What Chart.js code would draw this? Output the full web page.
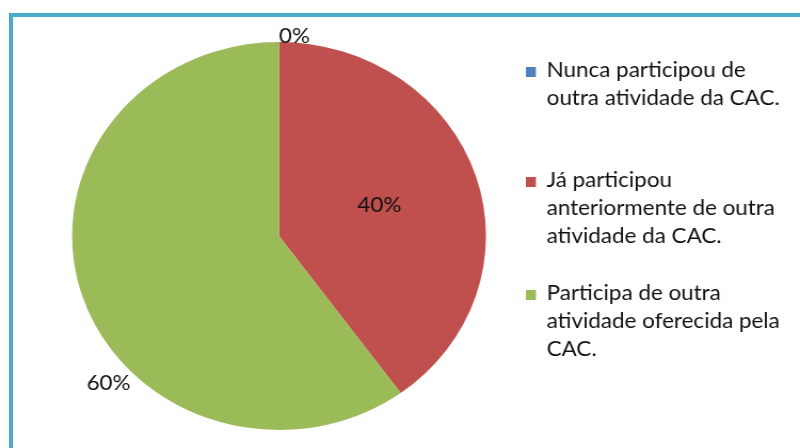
<!DOCTYPE html>
<html>
<head>
<meta charset="utf-8">
<script src="https://cdn.jsdelivr.net/npm/chart.js@4/dist/chart.umd.min.js"></script>
<style>
  body { margin: 0; width: 800px; height: 448px; overflow: hidden; position: relative; background: #fff; }
  #frame { position: absolute; left: 9px; top: 13px; width: 1000px; height: 1000px; border: 4px solid #4BACC6; box-sizing: border-box; }
  #wrap { position: absolute; left: 0; top: 0; width: 750px; height: 448px; transform: scaleX(1.0667); transform-origin: 0 0; }
</style>
</head>
<body>
<div id="frame"></div>
<div id="wrap"><canvas id="pieChart" width="750" height="448"></canvas></div>
<script>
// categories (multi-line legend text) and values
const categories = [
    ['Nunca participou de', 'outra atividade da CAC.'],
    ['Já participou', 'anteriormente de outra', 'atividade da CAC.'],
    ['Participa de outra', 'atividade oferecida pela', 'CAC.']
];
const shares = [0, 40, 60];
const sliceColors = ['#4F81BD', '#C0504D', '#9BBB59'];

// where each % label sits: fraction along the arc, multiple of the radius
const labelSpots = [
    { frac: 0, r: 1.03, align: 'left' },
    { frac: 0.5, r: 0.51, align: 'center' },
    { frac: 0.386, r: 1.12, align: 'center' }
];

const pctLabels = {
    id: 'pctLabels',
    afterDatasetsDraw(chart) {
        const ctx = chart.ctx;
        const arcs = chart.getDatasetMeta(0).data;
        ctx.save();
        ctx.font = '21px Lato';
        ctx.fillStyle = '#111';
        ctx.textBaseline = 'middle';
        arcs.forEach((arc, i) => {
            const p = arc.getProps(['x', 'y', 'startAngle', 'endAngle', 'outerRadius'], true);
            const spot = labelSpots[i];
            const a = p.startAngle + spot.frac * (p.endAngle - p.startAngle);
            const r = p.outerRadius * spot.r;
            ctx.textAlign = spot.align;
            ctx.fillText(shares[i] + '%', p.x + Math.cos(a) * r, p.y + Math.sin(a) * r);
        });
        ctx.restore();
    }
};

// legend on the right, drawn by hand so it can wrap like the original
const sideLegend = {
    id: 'sideLegend',
    afterDraw(chart) {
        const ctx = chart.ctx;
        const left = chart.chartArea.right + 37.4;
        const lineH = 28;
        const firstBaselines = [77, 187, 300];
        ctx.save();
        ctx.font = '21px Lato';
        ctx.textBaseline = 'alphabetic';
        ctx.textAlign = 'left';
        chart.data.labels.forEach((lines, i) => {
            const y0 = firstBaselines[i];
            ctx.fillStyle = sliceColors[i];
            ctx.fillRect(left, y0 - 10, 9.4, 10);
            ctx.fillStyle = '#111';
            lines.forEach((t, j) => ctx.fillText(t, left + 19.5, y0 + j * lineH));
        });
        ctx.restore();
    }
};

const ctx = document.getElementById('pieChart').getContext('2d');
const pieChart = new Chart(ctx, {
    type: 'pie',
    data: {
        labels: categories,
        datasets: [{
            data: shares,
            backgroundColor: sliceColors,
            borderWidth: 0
        }]
    },
    options: {
        responsive: false,
        animation: false,
        layout: {
            padding: { top: 42, bottom: 18, left: 67.6, right: 294.4 }
        },
        plugins: {
            legend: { display: false },
            tooltip: { enabled: false }
        }
    },
    plugins: [pctLabels, sideLegend]
});
</script>
</body>
</html>
